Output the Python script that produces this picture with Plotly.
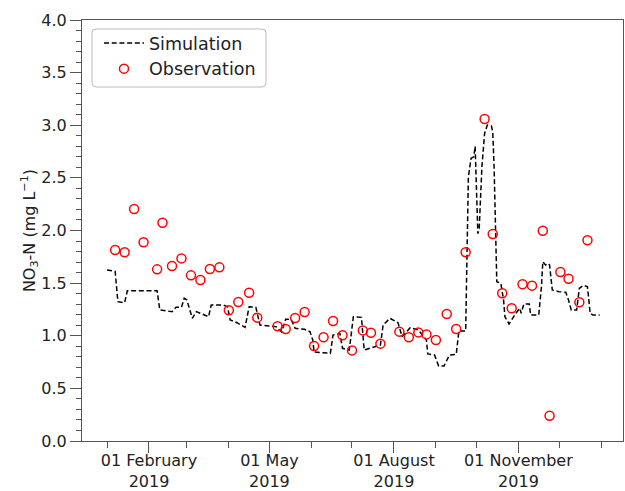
import plotly.graph_objects as go

# ---------------- data ----------------
sim_dates = [
    "2019-01-01", "2019-01-07", "2019-01-09", "2019-01-14", "2019-01-16", "2019-02-07",
    "2019-02-09", "2019-02-18", "2019-02-21", "2019-02-25", "2019-02-27", "2019-03-01",
    "2019-03-05", "2019-03-08", "2019-03-17", "2019-03-19", "2019-03-28", "2019-03-31",
    "2019-04-02", "2019-04-07", "2019-04-13", "2019-04-16", "2019-04-21", "2019-04-24",
    "2019-05-06", "2019-05-10", "2019-05-13", "2019-05-17", "2019-05-20", "2019-05-27",
    "2019-05-31", "2019-06-02", "2019-06-03", "2019-06-15", "2019-06-17", "2019-06-22",
    "2019-06-24", "2019-06-29", "2019-07-02", "2019-07-08", "2019-07-10", "2019-07-22",
    "2019-07-24", "2019-07-29", "2019-08-04", "2019-08-07", "2019-08-13", "2019-08-19",
    "2019-08-25", "2019-08-26", "2019-08-31", "2019-09-03", "2019-09-07", "2019-09-11",
    "2019-09-16", "2019-09-18", "2019-09-23", "2019-09-24", "2019-09-25", "2019-09-27",
    "2019-09-29", "2019-09-30", "2019-10-02", "2019-10-03", "2019-10-05", "2019-10-07",
    "2019-10-09", "2019-10-12", "2019-10-13", "2019-10-14", "2019-10-15", "2019-10-16",
    "2019-10-19", "2019-10-21", "2019-10-22", "2019-10-25", "2019-10-27", "2019-10-30",
    "2019-11-02", "2019-11-03", "2019-11-05", "2019-11-09", "2019-11-10", "2019-11-16",
    "2019-11-18", "2019-11-19", "2019-11-21", "2019-11-23", "2019-11-24", "2019-11-26",
    "2019-12-01", "2019-12-06", "2019-12-08", "2019-12-10", "2019-12-14", "2019-12-16",
    "2019-12-19", "2019-12-22", "2019-12-24", "2019-12-26", "2019-12-31",
]
sim_values = [
    1.625, 1.612, 1.324, 1.314, 1.428, 1.428,
    1.245, 1.229, 1.270, 1.270, 1.356, 1.340,
    1.166, 1.229, 1.181, 1.292, 1.292, 1.276,
    1.150, 1.124, 1.080, 1.276, 1.270, 1.102,
    1.086, 1.036, 1.156, 1.156, 1.071, 1.061,
    1.038, 0.960, 0.846, 0.833, 1.007, 1.023,
    0.881, 0.865, 1.181, 1.175, 0.865, 0.912,
    1.102, 1.166, 1.124, 0.991, 1.077, 1.055,
    0.960, 0.827, 0.817, 0.713, 0.713, 0.817,
    0.822, 1.045, 1.045, 1.751, 2.511, 2.686,
    2.700, 2.800, 1.970, 2.020, 2.606, 2.923,
    3.002, 2.993, 2.939, 2.606, 1.973, 1.514,
    1.498, 1.340, 1.181, 1.112, 1.150, 1.213,
    1.261, 1.213, 1.302, 1.302, 1.197, 1.197,
    1.466, 1.704, 1.672, 1.688, 1.672, 1.435,
    1.419, 1.413, 1.340, 1.245, 1.245, 1.451,
    1.479, 1.466, 1.213, 1.197, 1.197,
]

obs_dates = [
    "2019-01-07", "2019-01-14", "2019-01-21", "2019-01-28", "2019-02-07", "2019-02-11",
    "2019-02-18", "2019-02-25", "2019-03-04", "2019-03-11", "2019-03-18", "2019-03-25",
    "2019-04-01", "2019-04-08", "2019-04-16", "2019-04-22", "2019-05-07", "2019-05-13",
    "2019-05-20", "2019-05-27", "2019-06-03", "2019-06-10", "2019-06-17", "2019-06-24",
    "2019-07-01", "2019-07-09", "2019-07-15", "2019-07-22", "2019-08-05", "2019-08-12",
    "2019-08-19", "2019-08-25", "2019-09-01", "2019-09-09", "2019-09-16", "2019-09-23",
    "2019-10-07", "2019-10-13", "2019-10-20", "2019-10-27", "2019-11-04", "2019-11-11",
    "2019-11-19", "2019-11-24", "2019-12-02", "2019-12-08", "2019-12-16", "2019-12-22",
]
obs_values = [
    1.815, 1.793, 2.204, 1.888, 1.631, 2.074,
    1.663, 1.735, 1.574, 1.530, 1.634, 1.650,
    1.242, 1.321, 1.409, 1.172, 1.090, 1.064,
    1.169, 1.226, 0.903, 0.985, 1.140, 1.004,
    0.861, 1.051, 1.029, 0.925, 1.039, 0.985,
    1.032, 1.013, 0.960, 1.207, 1.064, 1.793,
    3.059, 1.967, 1.403, 1.261, 1.489, 1.476,
    1.998, 0.240, 1.606, 1.542, 1.318, 1.907,
]

x_major_ticks = ["2019-02-01", "2019-05-01", "2019-08-01", "2019-11-01"]
x_major_labels = ["01 February<br>2019", "01 May<br>2019", "01 August<br>2019", "01 November<br>2019"]
x_minor_ticks = ["2019-01-01", "2019-03-01", "2019-04-01", "2019-06-01", "2019-07-01",
                 "2019-09-01", "2019-10-01", "2019-12-01", "2020-01-01"]
x_range = ["2018-12-13 12:00", "2020-01-17 06:00"]
y_range = [0, 4.0]

FONT = "DejaVu Sans"
AXIS_COL = "#555555"
TEXT_COL = "#222222"

fig = go.Figure()
fig.add_trace(go.Scatter(
    x=sim_dates, y=sim_values, mode="lines", name="Simulation",
    line=dict(color="black", width=1.5, dash="5px,2.7px"),
))
fig.add_trace(go.Scatter(
    x=obs_dates, y=obs_values, mode="markers", name="Observation",
    marker=dict(symbol="circle-open", size=9, color="red", line=dict(width=1.5, color="red")),
))

# rounded legend frame (paper coordinates of plot area)
W, H = 541.0, 421.0
x0, x1 = 10 / W, 184 / W
y1, y0 = 1 - 9 / H, 1 - 67 / H
rx, ry = 4 / W, 4 / H
path = (f"M{x0+rx},{y1} L{x1-rx},{y1} Q{x1},{y1} {x1},{y1-ry} "
        f"L{x1},{y0+ry} Q{x1},{y0} {x1-rx},{y0} L{x0+rx},{y0} "
        f"Q{x0},{y0} {x0},{y0+ry} L{x0},{y1-ry} Q{x0},{y1} {x0+rx},{y1} Z")
fig.add_shape(type="path", path=path, xref="paper", yref="paper",
              line=dict(color="#bbbbbb", width=1), fillcolor="white", layer="above")

fig.update_layout(
    width=625, height=491,
    margin=dict(l=82, r=2, t=20, b=50),
    paper_bgcolor="white", plot_bgcolor="white",
    font=dict(family=FONT, size=16, color=TEXT_COL),
    showlegend=True,
    legend=dict(
        x=17 / W, y=1 - 5 / H, xanchor="left", yanchor="top",
        bgcolor="rgba(0,0,0,0)", borderwidth=0,
        font=dict(family=FONT, size=17.5, color=TEXT_COL),
        itemwidth=40, tracegroupgap=0,
    ),
    xaxis=dict(
        type="date", range=x_range, automargin=False,
        tickmode="array", tickvals=x_major_ticks, ticktext=x_major_labels,
        ticks="outside", ticklen=11, tickwidth=1, tickcolor=AXIS_COL,
        ticklabelstandoff=-6,
        showline=True, linecolor=AXIS_COL, linewidth=1, mirror=True,
        showgrid=False, zeroline=False,
        tickfont=dict(family=FONT, size=16, color=TEXT_COL),
        minor=dict(tickmode="array", tickvals=x_minor_ticks, ticks="outside",
                   ticklen=6, tickwidth=1, tickcolor=AXIS_COL, showgrid=False),
    ),
    yaxis=dict(
        range=y_range, dtick=0.5, tick0=0, tickformat=".1f", automargin=False,
        ticks="outside", ticklen=11, tickwidth=1, tickcolor=AXIS_COL,
        showline=True, linecolor=AXIS_COL, linewidth=1, mirror=True,
        showgrid=False, zeroline=False,
        tickfont=dict(family=FONT, size=16, color=TEXT_COL),
        title=dict(text="NO<sub>3</sub>-N (mg L<sup>−1</sup>)",
                   font=dict(family=FONT, size=16, color=TEXT_COL), standoff=1),
        minor=dict(dtick=0.1, tick0=0, ticks="outside", ticklen=5, tickwidth=1,
                   tickcolor=AXIS_COL, showgrid=False),
    ),
)

fig.write_html("out.html")
